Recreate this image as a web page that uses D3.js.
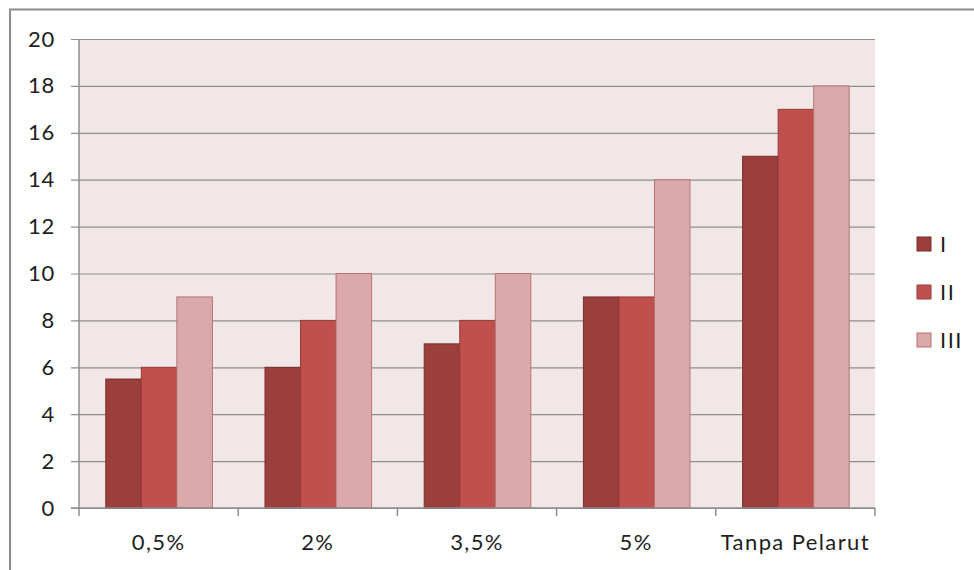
<!DOCTYPE html>
<html>
<head>
<meta charset="utf-8">
<script src="https://cdn.jsdelivr.net/npm/d3@7"></script>
<style>
  html, body { margin: 0; padding: 0; background: #fff; }
  svg { display: block; font-family: Lato, "Open Sans", sans-serif; }
</style>
</head>
<body>
<svg id="chart" width="974" height="570"></svg>
<script>
// Categories, series and values
const categories = ["0,5%", "2%", "3,5%", "5%", "Tanpa Pelarut"];
const seriesNames = ["I", "II", "III"];
const valuesI   = [5.5, 6, 7, 9, 15];
const valuesII  = [6, 8, 8, 9, 17];
const valuesIII = [9, 10, 10, 14, 18];
const yTicks = [0, 2, 4, 6, 8, 10, 12, 14, 16, 18, 20];

const seriesValues = [valuesI, valuesII, valuesIII];
const fills   = ["#9B3F3D", "#C0504D", "#DBA9A9"];
const strokes = ["#7A2E2C", "#963B39", "#B57474"];
const textColor = "#1e1e1e";
const fontSize = 22;

const svg = d3.select("#chart");

// Outer chart frame
svg.append("path")
  .attr("d", "M10,570 L10,9.5 L974,9.5")
  .attr("fill", "none").attr("stroke", "#8c8c8c").attr("stroke-width", 2);

const plot = { left: 79, right: 875, top: 39, bottom: 508 };

const x = d3.scaleBand().domain(categories).range([plot.left, plot.right]).paddingInner(0).paddingOuter(0);
const xs = d3.scaleBand().domain(seriesNames).range([0, x.bandwidth()]).paddingInner(0).paddingOuter(0.5 * 1.48);
const y = d3.scaleLinear().domain([0, 20]).range([plot.bottom, plot.top]);

// Plot background
svg.append("rect")
  .attr("x", plot.left).attr("y", plot.top)
  .attr("width", plot.right - plot.left).attr("height", plot.bottom - plot.top)
  .attr("fill", "#F2E7E7");

// Horizontal gridlines with left tick marks
const yAxis = d3.axisLeft(y).tickValues(yTicks).tickSize(-(plot.right - plot.left)).tickPadding(24).tickFormat(d3.format("d"));
const gy = svg.append("g").attr("transform", `translate(${plot.left},0)`).call(yAxis);
gy.select(".domain").remove();
gy.selectAll(".tick line").attr("stroke", "#8e8e8e").attr("stroke-width", 1.2).attr("x1", -8);
gy.selectAll(".tick text")
  .attr("font-size", fontSize).attr("fill", textColor)
  .attr("letter-spacing", 0.8).attr("font-family", "Lato, sans-serif");

// Bars
const groups = svg.append("g").selectAll("g")
  .data(categories).join("g")
  .attr("transform", d => `translate(${x(d)},0)`);

groups.selectAll("rect")
  .data((c, ci) => seriesNames.map((s, si) => ({ s, si, v: seriesValues[si][ci] })))
  .join("rect")
  .attr("x", d => xs(d.s) + 0.5)
  .attr("y", d => y(d.v))
  .attr("width", xs.bandwidth())
  .attr("height", d => y(0) - y(d.v))
  .attr("fill", d => fills[d.si])
  .attr("stroke", d => strokes[d.si])
  .attr("stroke-width", 1);

// Vertical axis line
svg.append("line")
  .attr("x1", plot.left).attr("x2", plot.left)
  .attr("y1", plot.top).attr("y2", plot.bottom + 1)
  .attr("stroke", "#8e8e8e").attr("stroke-width", 1.5);

// Category axis
const boundaries = categories.map(c => x(c)).concat([plot.right]);
const gx = svg.append("g");
gx.append("line")
  .attr("x1", plot.left - 8).attr("x2", plot.right)
  .attr("y1", plot.bottom).attr("y2", plot.bottom)
  .attr("stroke", "#8e8e8e").attr("stroke-width", 1.5);
gx.selectAll("line.tick").data(boundaries).join("line")
  .attr("class", "tick")
  .attr("x1", d => d).attr("x2", d => d)
  .attr("y1", plot.bottom).attr("y2", plot.bottom + 8)
  .attr("stroke", "#8e8e8e").attr("stroke-width", 1.5);
gx.selectAll("text").data(categories).join("text")
  .attr("x", d => x(d) + x.bandwidth() / 2)
  .attr("y", 550)
  .attr("text-anchor", "middle")
  .attr("font-size", fontSize)
  .attr("letter-spacing", 1.4)
  .attr("fill", textColor)
  .text(d => d);

// Legend
const legend = svg.append("g").selectAll("g")
  .data(seriesNames).join("g")
  .attr("transform", (d, i) => `translate(917,${237 + i * 48})`);
legend.append("rect")
  .attr("width", 14).attr("height", 14)
  .attr("fill", (d, i) => fills[i])
  .attr("stroke", (d, i) => strokes[i]);
legend.append("text")
  .attr("x", 23).attr("y", 15)
  .attr("font-size", fontSize).attr("letter-spacing", 1.5).attr("fill", textColor)
  .text(d => d);
</script>
</body>
</html>
